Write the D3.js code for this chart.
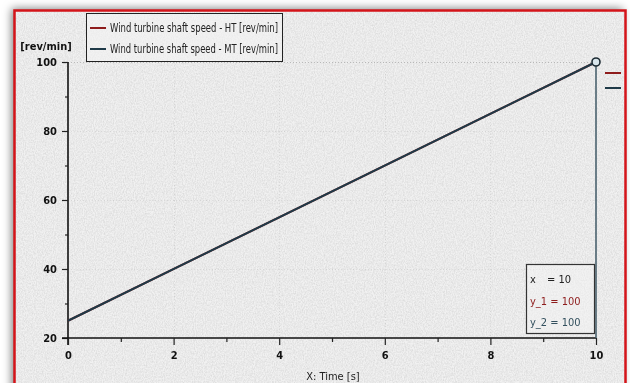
<!DOCTYPE html>
<html>
<head>
<meta charset="utf-8">
<script src="https://cdn.jsdelivr.net/npm/d3@7/dist/d3.min.js"></script>
<style>
  html, body { margin: 0; padding: 0; background: #ffffff; }
  svg { display: block; }
  text { font-family: "Liberation Sans Narrow", "DejaVu Sans Condensed", "Liberation Sans", sans-serif; }
</style>
</head>
<body>
<svg id="chart" width="630" height="383"></svg>
<script>
// Simulation output: shaft speed over time for two turbine models
const time = [0, 10];
const speedHT = [25, 100];
const speedMT = [25, 100];

const seriesNames = [
  "Wind turbine shaft speed - HT [rev/min]",
  "Wind turbine shaft speed - MT [rev/min]"
];
const seriesColors = ["#8e1c1c", "#1f3a48"];

const xTicks = [0, 1, 2, 3, 4, 5, 6, 7, 8, 9, 10];
const xTickLabels = ["0", "", "2", "", "4", "", "6", "", "8", "", "10"];
const yTicks = [20, 30, 40, 50, 60, 70, 80, 90, 100];
const yTickLabels = ["20", "", "40", "", "60", "", "80", "", "100"];

const yUnit = "[rev/min]";
const xTitle = "X: Time [s]";

// Cursor readout at the last sample
const cursorIndex = 1;

const svg = d3.select("#chart");

const x = d3.scaleLinear().domain([0, 10]).range([68, 596]);
const y = d3.scaleLinear().domain([20, 100]).range([338, 62]);

const defs = svg.append("defs");

// Soft shadow behind the window frame
const shadow = defs.append("filter").attr("id", "frameShadow")
  .attr("x", "-10%").attr("y", "-10%").attr("width", "120%").attr("height", "130%");
shadow.append("feDropShadow").attr("dx", -3).attr("dy", -2)
  .attr("stdDeviation", 4).attr("flood-color", "#000").attr("flood-opacity", 0.5);

// Canvas-like grain for the plot window
const grain = defs.append("filter").attr("id", "grain")
  .attr("x", 0).attr("y", 0).attr("width", "100%").attr("height", "100%");
grain.append("feTurbulence").attr("type", "fractalNoise")
  .attr("baseFrequency", "0.9 0.6").attr("numOctaves", 2).attr("seed", 4).attr("result", "n");
grain.append("feColorMatrix").attr("in", "n").attr("type", "matrix")
  .attr("values", "0 0 0 0 0.55  0 0 0 0 0.55  0 0 0 0 0.55  0 0 0 -1.6 1.1");

const frame = { x: 14.5, y: 10.5, w: 611, h: 400 };

svg.append("rect")
  .attr("x", frame.x).attr("y", frame.y).attr("width", frame.w).attr("height", frame.h)
  .attr("fill", "#f1f1f1").attr("filter", "url(#frameShadow)");

svg.append("rect")
  .attr("x", frame.x).attr("y", frame.y).attr("width", frame.w).attr("height", frame.h)
  .attr("fill", "#ffffff").attr("filter", "url(#grain)").attr("opacity", 0.55);

// Red window border
svg.append("rect")
  .attr("x", frame.x).attr("y", frame.y).attr("width", frame.w).attr("height", frame.h)
  .attr("fill", "none").attr("stroke", "#d4141a").attr("stroke-width", 2.5);

// Dotted grid at major ticks
const grid = svg.append("g").attr("stroke", "#9a9a9a").attr("stroke-width", 1)
  .attr("stroke-dasharray", "1,2").attr("opacity", 0.6);
grid.selectAll("line.h").data(yTicks.filter((d, i) => yTickLabels[i] !== "" && d !== 20))
  .join("line").attr("class", "h")
  .attr("x1", x(0)).attr("x2", x(10))
  .attr("y1", d => Math.round(y(d)) + 0.5).attr("y2", d => Math.round(y(d)) + 0.5)
  .attr("opacity", d => d === 100 ? 1 : 0.35);
grid.selectAll("line.v").data(xTicks.filter((d, i) => xTickLabels[i] !== "" && d !== 0 && d !== 10))
  .join("line").attr("class", "v")
  .attr("y1", y(100)).attr("y2", y(20))
  .attr("x1", d => Math.round(x(d)) + 0.5).attr("x2", d => Math.round(x(d)) + 0.5)
  .attr("opacity", 0.35);

// Axes
const yAxis = d3.axisLeft(y).tickValues(yTicks)
  .tickSize(0).tickFormat((d, i) => yTickLabels[i]);
const gy = svg.append("g").attr("transform", `translate(${x(0)},0)`).call(yAxis);
gy.select(".domain").attr("stroke", "#111").attr("stroke-width", 1.6)
  .attr("d", `M0,${y(100)}V${y(20) + 7}`);
gy.selectAll(".tick line").attr("stroke", "#222").attr("stroke-width", 1.2)
  .attr("x2", (d, i) => yTickLabels[i] !== "" ? -6 : -3);
gy.selectAll(".tick text").attr("x", -11).attr("fill", "#111")
  .attr("font-size", 11).attr("font-weight", "bold");

const xAxis = d3.axisBottom(x).tickValues(xTicks)
  .tickSize(0).tickFormat((d, i) => xTickLabels[i]);
const gx = svg.append("g").attr("transform", `translate(0,${y(20)})`).call(xAxis);
gx.select(".domain").attr("stroke", "#111").attr("stroke-width", 1.6)
  .attr("d", `M${x(0) - 6},0H${x(10)}`);
gx.selectAll(".tick line").attr("stroke", "#222").attr("stroke-width", 1.2)
  .attr("y2", (d, i) => xTickLabels[i] !== "" ? 7 : 4);
gx.selectAll(".tick text").attr("y", 13).attr("fill", "#111")
  .attr("font-size", 11).attr("font-weight", "bold");

svg.append("text").attr("x", 46).attr("y", 50).attr("text-anchor", "middle")
  .attr("font-size", 11).attr("font-weight", "bold").attr("fill", "#111").text(yUnit);

svg.append("text").attr("x", 333).attr("y", 380).attr("text-anchor", "middle")
  .attr("font-size", 11).attr("fill", "#222").text(xTitle);

// Series lines (MT drawn last, on top)
const line = d3.line().x((d, i) => x(time[i])).y(d => y(d));
[speedHT, speedMT].forEach((s, k) => {
  svg.append("path").datum(s).attr("d", line)
    .attr("fill", "none").attr("stroke", seriesColors[k]).attr("stroke-width", 2);
});

// Cursor line and marker
svg.append("line")
  .attr("x1", x(time[cursorIndex])).attr("x2", x(time[cursorIndex]))
  .attr("y1", y(speedMT[cursorIndex])).attr("y2", y(20))
  .attr("stroke", "#3f5866").attr("stroke-width", 1.5);
svg.append("circle")
  .attr("cx", x(time[cursorIndex])).attr("cy", y(speedMT[cursorIndex])).attr("r", 4)
  .attr("fill", "#d9e6ec").attr("stroke", "#1d2b33").attr("stroke-width", 1.6);

// Series markers at the right edge
seriesColors.forEach((c, k) => {
  svg.append("line").attr("x1", 605).attr("x2", 621)
    .attr("y1", 73 + k * 15).attr("y2", 73 + k * 15)
    .attr("stroke", c).attr("stroke-width", 2);
});

// Legend
const lg = svg.append("g");
lg.append("rect").attr("x", 86.5).attr("y", 13.5).attr("width", 196).attr("height", 48)
  .attr("fill", "#f4f4f4").attr("fill-opacity", 0.6)
  .attr("stroke", "#222").attr("stroke-width", 1);
seriesNames.forEach((name, k) => {
  const yy = 28 + k * 21;
  lg.append("line").attr("x1", 90).attr("x2", 106).attr("y1", yy).attr("y2", yy)
    .attr("stroke", seriesColors[k]).attr("stroke-width", 2);
  lg.append("text").attr("x", 110).attr("y", yy + 4)
    .attr("font-size", 12).attr("fill", "#222")
    .attr("textLength", 168).attr("lengthAdjust", "spacingAndGlyphs").text(name);
});

// Cursor readout box
const cb = svg.append("g");
cb.append("rect").attr("x", 526.5).attr("y", 264.5).attr("width", 68).attr("height", 69)
  .attr("fill", "#f4f4f4").attr("fill-opacity", 0.5)
  .attr("stroke", "#333").attr("stroke-width", 1.2);
const rows = [
  { label: "x", value: time[cursorIndex], color: "#222" },
  { label: "y_1", value: speedHT[cursorIndex], color: "#8e1c1c" },
  { label: "y_2", value: speedMT[cursorIndex], color: "#33505e" }
];
rows.forEach((r, k) => {
  const yy = 283 + k * 21.5;
  if (k === 0) {
    cb.append("text").attr("x", 530).attr("y", yy).attr("font-size", 11)
      .attr("fill", r.color).text(r.label);
    cb.append("text").attr("x", 547).attr("y", yy).attr("font-size", 11)
      .attr("fill", r.color).text("= " + r.value);
  } else {
    cb.append("text").attr("x", 530).attr("y", yy).attr("font-size", 11)
      .attr("fill", r.color).text(r.label + " = " + r.value);
  }
});
</script>
</body>
</html>
